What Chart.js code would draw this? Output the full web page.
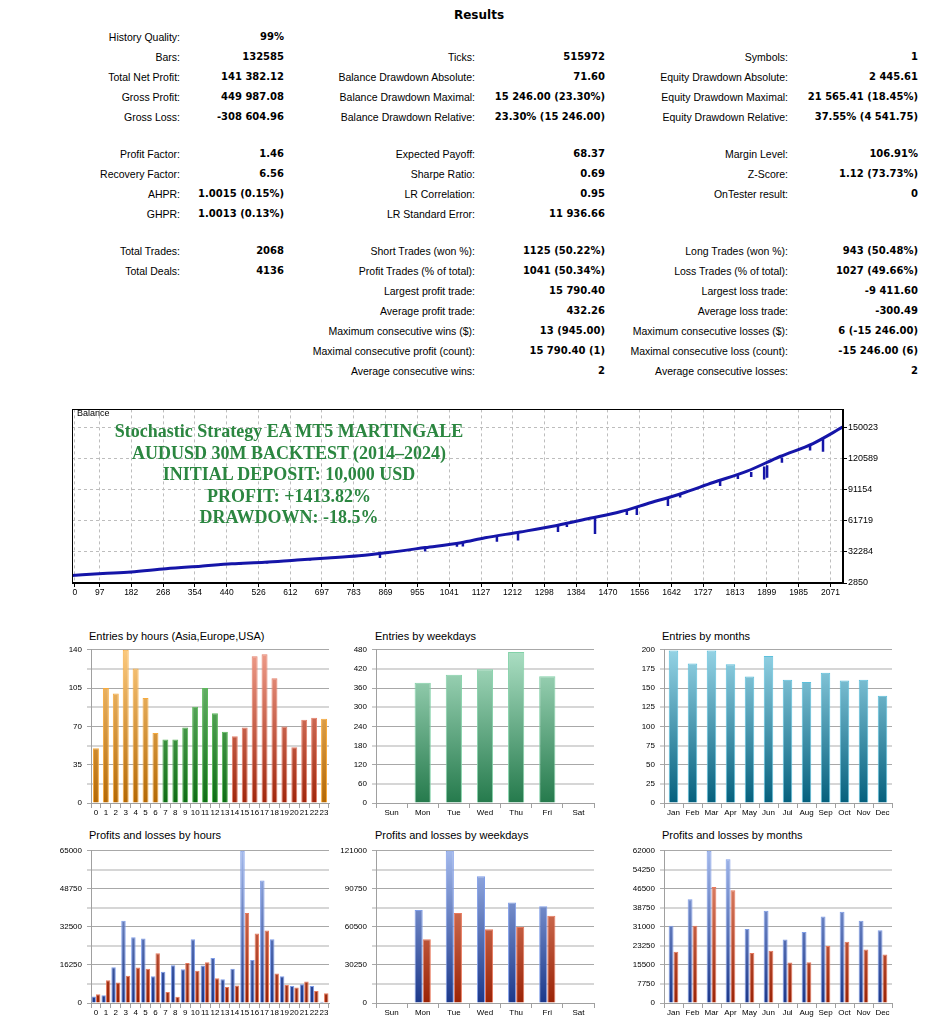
<!DOCTYPE html>
<html>
<head>
<meta charset="utf-8">
<script src="https://cdn.jsdelivr.net/npm/chart.js@4/dist/chart.umd.min.js"></script>
<style>
  body { margin: 0; background: #fff; }
  #page { position: relative; width: 938px; height: 1021px; overflow: hidden; font-family: "Liberation Sans", Arial, sans-serif; color: #000; }
  .lbl { position: absolute; font-size: 10.5px; line-height: 14px; white-space: nowrap; }
  .val { position: absolute; font: bold 10px/14px "DejaVu Sans", sans-serif; white-space: nowrap; }
  .ttl { position: absolute; font-size: 11px; line-height: 14px; white-space: nowrap; }
  canvas { position: absolute; }
  #results { position: absolute; left: 0; width: 958px; top: 8px; text-align: center; font: bold 12px/14px "DejaVu Sans", sans-serif; }
  #balLbl { position: absolute; left: 77px; top: 408px; font-size: 9px; line-height: 11px; }
  #promo { position: absolute; left: 89px; width: 400px; top: 421px; text-align: center; color: #2b8640;
           font: bold 18px/21.5px "Liberation Serif", "DejaVu Serif", serif; }
</style>
</head>
<body>
<div id="page">
  <div id="results">Results</div>
  <div id="table"></div>

  <canvas id="balance" width="868" height="197" style="left:70px;top:403px"></canvas>
  <div id="balLbl">Balance</div>
  <div id="promo">Stochastic Strategy EA MT5 MARTINGALE<br>AUDUSD 30M BACKTEST (2014–2024)<br>INITIAL DEPOSIT: 10,000 USD<br>PROFIT: +1413.82%<br>DRAWDOWN: -18.5%</div>

  <div class="ttl" style="left:89px;top:629px">Entries by hours (Asia,Europe,USA)</div>
  <div class="ttl" style="left:375px;top:629px">Entries by weekdays</div>
  <div class="ttl" style="left:662px;top:629px">Entries by months</div>
  <div class="ttl" style="left:89px;top:828px">Profits and losses by hours</div>
  <div class="ttl" style="left:375px;top:828px">Profits and losses by weekdays</div>
  <div class="ttl" style="left:662px;top:828px">Profits and losses by months</div>

  <canvas id="hoursChart" width="290" height="180" style="left:50px;top:640px"></canvas>
  <canvas id="daysChart" width="274" height="180" style="left:336px;top:640px"></canvas>
  <canvas id="monthsChart" width="300" height="180" style="left:622px;top:640px"></canvas>
  <canvas id="hoursPL" width="290" height="180" style="left:50px;top:841px"></canvas>
  <canvas id="daysPL" width="274" height="180" style="left:336px;top:841px"></canvas>
  <canvas id="monthsPL" width="300" height="180" style="left:622px;top:841px"></canvas>
</div>

<script>
// --- report table ---
const tableRows = [
  [37,  ['History Quality:', '99%'], null, null],
  [57,  ['Bars:', '132585'], ['Ticks:', '515972'], ['Symbols:', '1']],
  [77,  ['Total Net Profit:', '141 382.12'], ['Balance Drawdown Absolute:', '71.60'], ['Equity Drawdown Absolute:', '2 445.61']],
  [97,  ['Gross Profit:', '449 987.08'], ['Balance Drawdown Maximal:', '15 246.00 (23.30%)'], ['Equity Drawdown Maximal:', '21 565.41 (18.45%)']],
  [117, ['Gross Loss:', '-308 604.96'], ['Balance Drawdown Relative:', '23.30% (15 246.00)'], ['Equity Drawdown Relative:', '37.55% (4 541.75)']],
  [154, ['Profit Factor:', '1.46'], ['Expected Payoff:', '68.37'], ['Margin Level:', '106.91%']],
  [174, ['Recovery Factor:', '6.56'], ['Sharpe Ratio:', '0.69'], ['Z-Score:', '1.12 (73.73%)']],
  [194, ['AHPR:', '1.0015 (0.15%)'], ['LR Correlation:', '0.95'], ['OnTester result:', '0']],
  [214, ['GHPR:', '1.0013 (0.13%)'], ['LR Standard Error:', '11 936.66'], null],
  [251, ['Total Trades:', '2068'], ['Short Trades (won %):', '1125 (50.22%)'], ['Long Trades (won %):', '943 (50.48%)']],
  [271, ['Total Deals:', '4136'], ['Profit Trades (% of total):', '1041 (50.34%)'], ['Loss Trades (% of total):', '1027 (49.66%)']],
  [291, null, ['Largest profit trade:', '15 790.40'], ['Largest loss trade:', '-9 411.60']],
  [311, null, ['Average profit trade:', '432.26'], ['Average loss trade:', '-300.49']],
  [331, null, ['Maximum consecutive wins ($):', '13 (945.00)'], ['Maximum consecutive losses ($):', '6 (-15 246.00)']],
  [351, null, ['Maximal consecutive profit (count):', '15 790.40 (1)'], ['Maximal consecutive loss (count):', '-15 246.00 (6)']],
  [371, null, ['Average consecutive wins:', '2'], ['Average consecutive losses:', '2']]
];
const labelEdges = [180, 475, 788];
const valueEdges = [284, 605, 918];

// --- balance chart ---
const balanceTrades = [22, 105, 181, 276, 370, 454, 543, 630, 713, 797, 876, 976, 1073, 1138, 1233, 1332, 1421, 1503, 1576, 1665, 1754, 1846, 1935, 2024, 2105];
const balanceValues = [10000, 11830, 13300, 16460, 18860, 21060, 22570, 24760, 26640, 28770, 31820, 36450, 41080, 45710, 51260, 57460, 64220, 70420, 78100, 87360, 98190, 109020, 122900, 135210, 151000];
const spikeTrades = [106, 181, 346, 478, 549, 665, 854, 976, 1062, 1078, 1170, 1227, 1335, 1359, 1435, 1521, 1548, 1632, 1665, 1773, 1821, 1857, 1892, 1900, 1940, 2016, 2051];
const spikeTops   = [11830, 13300, 18300, 21400, 22700, 25500, 30900, 36300, 40300, 41000, 47600, 50600, 57500, 58300, 64800, 72200, 74600, 83600, 87200, 100000, 105000, 108300, 113500, 114500, 122000, 133500, 141000];
const spikeLows   = [10900, 12200, 17000, 20300, 21300, 24300, 26640, 32700, 37300, 37400, 42000, 43200, 51260, 56000, 49400, 67500, 67300, 75900, 84000, 95000, 101500, 103500, 101000, 102800, 117000, 128500, 127500];
const balanceTickPos  = [30, 97, 182, 268, 354, 440, 526, 612, 697, 783, 869, 955, 1041, 1127, 1212, 1298, 1384, 1470, 1556, 1642, 1727, 1813, 1899, 1985, 2071];
const balanceTickText = ['0', '97', '182', '268', '354', '440', '526', '612', '697', '783', '869', '955', '1041', '1127', '1212', '1298', '1384', '1470', '1556', '1642', '1727', '1813', '1899', '1985', '2071'];
const balanceYTicks = [2850, 32284, 61719, 91154, 120589, 150023];

// --- entries ---
const hourLabels = ['0','1','2','3','4','5','6','7','8','9','10','11','12','13','14','15','16','17','18','19','20','21','22','23'];
const hourEntries = [50, 105, 100, 140, 123, 96, 64, 58, 58, 69, 88, 105, 82, 65, 61, 69, 134, 136, 114, 70, 51, 76, 78, 77];
const hourSession = [0, 0, 0, 0, 0, 0, 0, 1, 1, 1, 1, 1, 1, 1, 2, 2, 2, 2, 2, 2, 2, 2, 2, 0];
const dayLabels = ['Sun', 'Mon', 'Tue', 'Wed', 'Thu', 'Fri', 'Sat'];
const dayEntries = [null, 377, 402, 419, 473, 397, null];
const monthLabels = ['Jan','Feb','Mar','Apr','May','Jun','Jul','Aug','Sep','Oct','Nov','Dec'];
const monthEntries = [199, 182, 199, 181, 165, 192, 161, 158, 170, 160, 161, 140];

// --- profits and losses ---
const hourProfits = [2780, 3330, 15280, 35140, 28060, 27500, 11390, 13330, 16110, 14440, 27220, 15970, 19170, 10140, 14580, 65000, 18330, 52360, 27220, 11390, 7220, 8060, 7220, 560];
const hourLosses  = [3750, 9720, 8750, 11670, 15140, 14580, 21250, 4720, 2640, 17080, 13750, 17360, 10560, 6810, 7500, 38470, 29720, 30970, 12640, 7640, 6670, 9170, 5140, 4170];
const dayProfits = [null, 73840, 121000, 100790, 79800, 76950, null];
const dayLosses  = [null, 50780, 71510, 58560, 60370, 69440, null];
const monthProfits = [31470, 42230, 62000, 58560, 30150, 37580, 25900, 28950, 35190, 37180, 33470, 29610];
const monthLosses  = [20850, 31470, 47280, 45950, 20320, 21250, 16470, 16600, 23240, 24970, 21780, 19790];

Chart.defaults.font.family = '"Liberation Sans", Arial, sans-serif';
Chart.defaults.color = '#000';

// build table
const table = document.getElementById('table');
tableRows.forEach(function(row) {
  const y = row[0];
  for (let c = 0; c < 3; c++) {
    const cell = row[c + 1];
    if (!cell) continue;
    const l = document.createElement('div');
    l.className = 'lbl';
    l.style.right = (938 - labelEdges[c]) + 'px';
    l.style.top = (y - 7) + 'px';
    l.textContent = cell[0];
    table.appendChild(l);
    const v = document.createElement('div');
    v.className = 'val';
    v.style.right = (938 - valueEdges[c]) + 'px';
    v.style.top = (y - 7) + 'px';
    v.textContent = cell[1];
    table.appendChild(v);
  }
});

const framePlugin = {
  id: 'frame',
  afterDatasetsDraw(chart) {
    const ctx = chart.ctx, a = chart.chartArea;
    ctx.save();
    ctx.strokeStyle = '#000';
    ctx.lineWidth = 1;
    ctx.strokeRect(Math.round(a.left) + 0.5, Math.round(a.top) + 0.5, Math.round(a.width) - 1, Math.round(a.height) - 1);
    ctx.restore();
  }
};

const balancePoints = balanceTrades.map((t, i) => ({ x: t, y: balanceValues[i] }));
const spikePoints = [];
spikeTrades.forEach(function(t, i) {
  spikePoints.push({ x: t, y: spikeTops[i] }, { x: t, y: spikeLows[i] }, { x: t, y: null });
});

new Chart(document.getElementById('balance'), {
  type: 'line',
  data: {
    datasets: [
      { data: spikePoints, borderColor: '#1515a8', borderWidth: 2.5, pointRadius: 0, spanGaps: false },
      { data: balancePoints, borderColor: '#1515a8', borderWidth: 3, pointRadius: 0, cubicInterpolationMode: 'monotone' }
    ]
  },
  options: {
    responsive: false,
    animation: false,
    layout: { autoPadding: false, padding: { left: 2, top: 2, right: 0, bottom: 0 } },
    plugins: { legend: { display: false }, tooltip: { enabled: false } },
    scales: {
      x: {
        type: 'linear', min: 22, max: 2105,
        afterBuildTicks: s => { s.ticks = balanceTickPos.map(v => ({ value: v })); },
        ticks: { callback: (v, i) => balanceTickText[i], autoSkip: false, maxRotation: 0, padding: 1, font: { size: 8.5 } },
        grid: { color: '#bdbdbd', tickColor: '#000', tickLength: 4 },
        border: { color: '#000', dash: [3, 3] },
        afterFit: s => { s.height = 17; }
      },
      y: {
        position: 'right', min: 2850, max: 167600,
        afterBuildTicks: s => { s.ticks = balanceYTicks.map(v => ({ value: v })); },
        ticks: { callback: v => String(v), font: { size: 9 }, padding: 1 },
        grid: { color: '#bdbdbd', tickColor: '#000', tickLength: 4 },
        border: { color: '#000', dash: [3, 3] },
        afterFit: s => { s.width = 95; }
      }
    }
  },
  plugins: [framePlugin]
});

function grad(top, bottom) {
  return function(c) {
    const a = c.chart.chartArea;
    if (!a) return bottom;
    const g = c.chart.ctx.createLinearGradient(0, a.top, 0, a.bottom);
    g.addColorStop(0, top);
    g.addColorStop(1, bottom);
    return g;
  };
}

const sessionFill = [grad('#fbc97e', '#b46804'), grad('#7ec47e', '#0d6c14'), grad('#ee9c8a', '#a0260c')];
const sessionBorder = ['#f7aa3c', '#5cb85c', '#e5806a'];
const blueFill = grad('#a3b9ec', '#1c388a');
const redFill = grad('#eb977d', '#9a2306');

function barChart(id, labels, datasets, o) {
  new Chart(document.getElementById(id), {
    type: 'bar',
    data: { labels: labels, datasets: datasets },
    options: {
      responsive: false,
      animation: false,
      layout: { autoPadding: false, padding: { top: 7, right: o.padRight, left: 0, bottom: 0 } },
      plugins: { legend: { display: false }, tooltip: { enabled: false } },
      datasets: { bar: { categoryPercentage: o.cat, barPercentage: o.bar, borderWidth: 1, borderSkipped: 'bottom' } },
      scales: {
        x: {
          grid: { display: true, drawOnChartArea: false, offset: true, tickLength: 5, color: '#a0a0a0' },
          border: { color: '#a0a0a0' },
          ticks: { autoSkip: false, maxRotation: 0, padding: 0, font: { size: 8 } },
          afterFit: s => { s.height = o.xh; }
        },
        y: {
          min: 0, max: o.max,
          ticks: { stepSize: o.step, padding: 5, font: { size: 8 },
                   callback: (v, i) => (o.all || i % 2 === 0) ? String(v) : '' },
          grid: { color: c => c.index % 2 ? '#d6d6d6' : '#a8a8a8', lineWidth: c => c.index % 2 ? 2 : 1, tickLength: 4 },
          border: { color: '#a0a0a0' },
          afterFit: s => { s.width = o.yw; }
        }
      }
    }
  });
}

barChart('hoursChart', hourLabels, [{
  data: hourEntries,
  backgroundColor: c => sessionFill[hourSession[c.dataIndex]](c),
  borderColor: c => sessionBorder[hourSession[c.dataIndex]]
}], { max: 140, step: 17.5, all: false, padRight: 11, yw: 41, xh: 17, cat: 1, bar: 0.6 });

barChart('daysChart', dayLabels, [{
  data: dayEntries, backgroundColor: grad('#acdfc4', '#257a4c'), borderColor: '#82d1a8'
}], { max: 480, step: 60, all: true, padRight: 16, yw: 40, xh: 17, cat: 1, bar: 0.52 });

barChart('monthsChart', monthLabels, [{
  data: monthEntries, backgroundColor: grad('#95d3e5', '#05607d'), borderColor: '#5cc0dc'
}], { max: 200, step: 25, all: true, padRight: 30, yw: 42, xh: 17, cat: 1, bar: 0.5 });

barChart('hoursPL', hourLabels, [
  { data: hourProfits, backgroundColor: blueFill, borderColor: '#7f9de8' },
  { data: hourLosses, backgroundColor: redFill, borderColor: '#e8795d' }
], { max: 65000, step: 8125, all: false, padRight: 11, yw: 41, xh: 18, cat: 0.9, bar: 1 });

barChart('daysPL', dayLabels, [
  { data: dayProfits, backgroundColor: blueFill, borderColor: '#7f9de8' },
  { data: dayLosses, backgroundColor: redFill, borderColor: '#e8795d' }
], { max: 121000, step: 15125, all: false, padRight: 16, yw: 40, xh: 18, cat: 0.52, bar: 1 });

barChart('monthsPL', monthLabels, [
  { data: monthProfits, backgroundColor: blueFill, borderColor: '#7f9de8' },
  { data: monthLosses, backgroundColor: redFill, borderColor: '#e8795d' }
], { max: 62000, step: 7750, all: true, padRight: 30, yw: 42, xh: 18, cat: 0.51, bar: 1 });
</script>
</body>
</html>
